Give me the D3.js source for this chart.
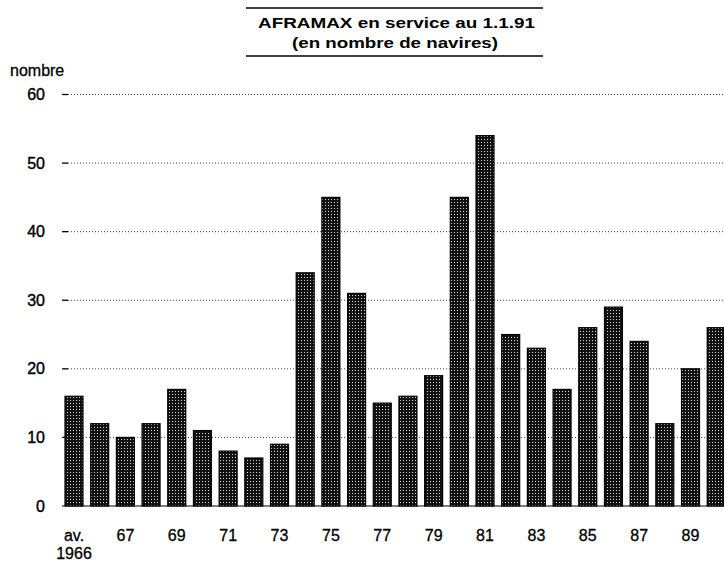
<!DOCTYPE html>
<html>
<head>
<meta charset="utf-8">
<script src="https://cdn.jsdelivr.net/npm/d3@7"></script>
<style>
  html, body { margin: 0; padding: 0; background: #fff; }
  svg { display: block; }
  text { font-family: "Liberation Sans", Arial, Helvetica, sans-serif; fill: #000; }
</style>
</head>
<body>
<script>
// ---- data ----
const categories = ["av. 1966","66","67","68","69","70","71","72","73","74","75","76","77","78","79","80","81","82","83","84","85","86","87","88","89","90"];
const values     = [16, 12, 10, 12, 17, 11, 8, 7, 9, 34, 45, 31, 15, 16, 19, 45, 54, 25, 23, 17, 26, 29, 24, 12, 20, 26];
const xTickLabels = ["av. 1966","67","69","71","73","75","77","79","81","83","85","87","89"];
const yTicks = [0, 10, 20, 30, 40, 50, 60];
const titleLines = ["AFRAMAX en service au 1.1.91", "(en nombre de navires)"];
const yAxisTitle = "nombre";

// ---- layout ----
const W = 724, H = 563;
const svg = d3.select("body").append("svg").attr("width", W).attr("height", H);

const defs = svg.append("defs");
const pat = defs.append("pattern")
  .attr("id", "stipple").attr("patternUnits", "userSpaceOnUse")
  .attr("width", 3).attr("height", 3);
pat.append("rect").attr("width", 3).attr("height", 3).attr("fill", "#111");
pat.append("rect").attr("x", 1).attr("y", 1).attr("width", 1).attr("height", 1).attr("fill", "#d8d8d8");

const x = d3.scaleBand().domain(categories).range([62, 728.2]).paddingInner(0.3).paddingOuter(0.117);
const y = d3.scaleLinear().domain([0, 60]).range([506, 94.5]);

// gridlines
const grid = svg.append("g");
yTicks.filter(t => t > 0).forEach(t => {
  grid.append("line").attr("x1", 68).attr("x2", W).attr("y1", y(t)).attr("y2", y(t))
    .attr("stroke", "#444").attr("stroke-width", 1).attr("stroke-dasharray", "1,2");
  grid.append("line").attr("x1", 62).attr("x2", 68).attr("y1", y(t)).attr("y2", y(t))
    .attr("stroke", "#000").attr("stroke-width", 1.3);
});

// y axis labels
const yAxis = d3.axisLeft(y).tickValues(yTicks).tickSize(0).tickPadding(0);
const gy = svg.append("g").attr("transform", "translate(45,0)").call(yAxis);
gy.select(".domain").remove();
gy.selectAll("text").attr("font-size", 16).attr("font-family", "'Liberation Sans', Arial, sans-serif")
  .attr("fill", "#000").attr("stroke", "#000").attr("stroke-width", 0.4);

svg.append("text").attr("x", 10).attr("y", 76).attr("font-size", 16)
  .attr("stroke", "#000").attr("stroke-width", 0.3).text(yAxisTitle);

// baseline
svg.append("line").attr("x1", 62).attr("x2", W).attr("y1", y(0)).attr("y2", y(0))
  .attr("stroke", "#000").attr("stroke-width", 1.2);

// bars
svg.append("g").selectAll("rect").data(values).join("rect")
  .attr("x", (d, i) => x(categories[i]))
  .attr("y", d => y(d))
  .attr("width", x.bandwidth())
  .attr("height", d => y(0) - y(d))
  .attr("fill", "url(#stipple)")
  .attr("stroke", "#000").attr("stroke-width", 1.2);

// x axis labels
const xAxis = d3.axisBottom(x).tickValues(xTickLabels).tickSize(0).tickPadding(0);
const gx = svg.append("g").attr("transform", "translate(0,530)").call(xAxis);
gx.select(".domain").remove();
gx.selectAll("text").attr("font-size", 16).attr("font-family", "'Liberation Sans', Arial, sans-serif")
  .attr("fill", "#000").attr("stroke", "#000").attr("stroke-width", 0.3)
  .attr("y", 0).attr("dy", "0.71em")
  .each(function(d) {
    const parts = d.split(" ");
    const t = d3.select(this);
    if (parts.length > 1) {
      t.text(null);
      parts.forEach((p, i) => {
        t.append("tspan").attr("x", 0).attr("dy", i === 0 ? "0.71em" : "1.1em").text(p);
      });
      t.attr("dy", null);
    }
  });

// title
svg.append("line").attr("x1", 246).attr("x2", 543).attr("y1", 8).attr("y2", 8).attr("stroke", "#000").attr("stroke-width", 1.5);
svg.append("line").attr("x1", 246).attr("x2", 543).attr("y1", 56).attr("y2", 56).attr("stroke", "#000").attr("stroke-width", 1.5);
svg.append("text").attr("x", 396.5).attr("y", 27.5).attr("text-anchor", "middle")
  .attr("font-size", 15).attr("font-weight", "bold")
  .attr("textLength", 277).attr("lengthAdjust", "spacingAndGlyphs").text(titleLines[0]);
svg.append("text").attr("x", 395).attr("y", 48).attr("text-anchor", "middle")
  .attr("font-size", 15).attr("font-weight", "bold")
  .attr("textLength", 206).attr("lengthAdjust", "spacingAndGlyphs").text(titleLines[1]);
</script>
</body>
</html>
